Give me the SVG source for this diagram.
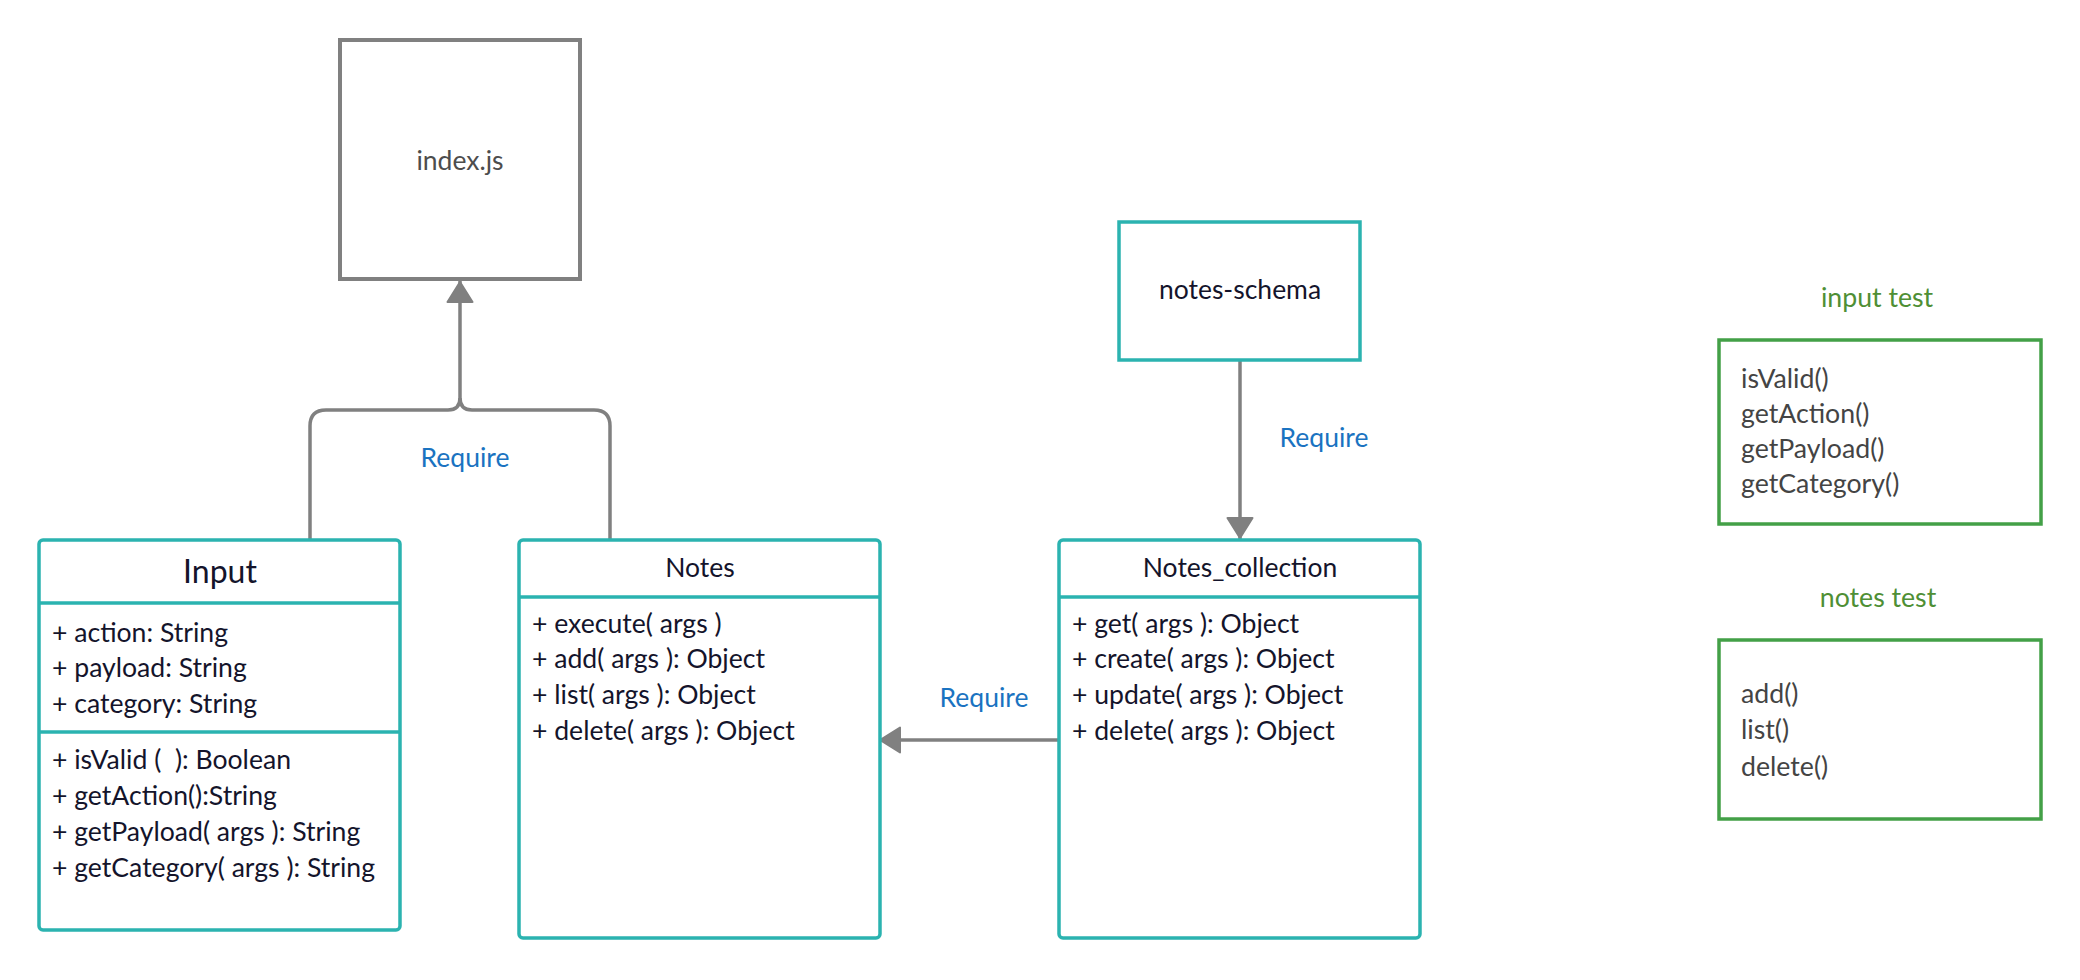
<svg xmlns="http://www.w3.org/2000/svg" width="2080" height="980" viewBox="0 0 2080 980">
<defs>
<style>
text{font-family:Lato,"Liberation Sans",sans-serif;white-space:pre;}
.box{fill:#fff;stroke:#2bb3b0;stroke-width:3.5;}
.div{stroke:#2bb3b0;stroke-width:3.5;}
.mem{font-size:26.6px;fill:#14142b;}
.ttl{font-size:26.5px;fill:#14142b;text-anchor:middle;}
.lbl{font-size:26.5px;fill:#1a73c1;text-anchor:middle;}
.con{fill:none;stroke:#808080;stroke-width:3.5;}
.tst{fill:#fff;stroke:#43a047;stroke-width:3.5;}
.tt{font-size:26.7px;fill:#4f8f35;text-anchor:middle;}
.tl{font-size:26.7px;fill:#444;}
</style>
<marker id="arr" viewBox="0 0 22 28" refX="22" refY="14" markerWidth="22" markerHeight="28" markerUnits="userSpaceOnUse" orient="auto">
<path d="M1,1.5 L21,14 L1,26.5 Z" fill="#808080" stroke="#808080" stroke-width="2" stroke-linejoin="round"/>
</marker>
</defs>
<rect width="2080" height="980" fill="#fff"/>

<g id="connectors">
<path class="con" d="M310,540 V426 Q310,410 326,410 H448 Q460,410 460,398 V281" marker-end="url(#arr)"/>
<path class="con" d="M610,540 V426 Q610,410 594,410 H472 Q460,410 460,398"/>
<path class="con" d="M1240,360 V539" marker-end="url(#arr)"/>
<path class="con" d="M1059,740 H879" marker-end="url(#arr)"/>
<text class="lbl" x="465" y="467">Require</text>
<text class="lbl" x="1324" y="447">Require</text>
<text class="lbl" x="984" y="707">Require</text>
</g>

<g id="index">
<rect x="340" y="40" width="240" height="239" fill="#fff" stroke="#808080" stroke-width="4"/>
<text x="460" y="170" font-size="26.5" fill="#4d4d4d" text-anchor="middle">index.js</text>
</g>

<g id="notes-schema">
<rect class="box" x="1119" y="222" width="241" height="138"/>
<text x="1240" y="299" font-size="26.5" fill="#14142b" text-anchor="middle">notes-schema</text>
</g>

<g id="input">
<rect class="box" x="39" y="540" width="361" height="390" rx="4"/>
<line class="div" x1="39" y1="603" x2="400" y2="603"/>
<line class="div" x1="39" y1="732" x2="400" y2="732"/>
<text x="220" y="583" font-size="32" fill="#14142b" text-anchor="middle">Input</text>
<text class="mem" x="52" y="642">+ action: String</text>
<text class="mem" x="52" y="677">+ payload: String</text>
<text class="mem" x="52" y="713">+ category: String</text>
<text class="mem" x="52" y="769">+ isValid (  ): Boolean</text>
<text class="mem" x="52" y="805">+ getAction():String</text>
<text class="mem" x="52" y="841">+ getPayload( args ): String</text>
<text class="mem" x="52" y="877" font-size="23.5">+ getCategory( args ): String</text>
</g>

<g id="notes">
<rect class="box" x="519" y="540" width="361" height="398" rx="4"/>
<line class="div" x1="519" y1="597" x2="880" y2="597"/>
<text class="ttl" x="700" y="577">Notes</text>
<text class="mem" x="532" y="633">+ execute( args )</text>
<text class="mem" x="532" y="668">+ add( args ): Object</text>
<text class="mem" x="532" y="704">+ list( args ): Object</text>
<text class="mem" x="532" y="740">+ delete( args ): Object</text>
</g>

<g id="notes-collection">
<rect class="box" x="1059" y="540" width="361" height="398" rx="4"/>
<line class="div" x1="1059" y1="597" x2="1420" y2="597"/>
<text class="ttl" x="1240" y="577">Notes_collection</text>
<text class="mem" x="1072" y="633">+ get( args ): Object</text>
<text class="mem" x="1072" y="668">+ create( args ): Object</text>
<text class="mem" x="1072" y="704">+ update( args ): Object</text>
<text class="mem" x="1072" y="740">+ delete( args ): Object</text>
</g>

<g id="input-test">
<text class="tt" x="1877" y="307">input test</text>
<rect class="tst" x="1719" y="340" width="322" height="184"/>
<text class="tl" x="1741" y="388">isValid()</text>
<text class="tl" x="1741" y="423">getAction()</text>
<text class="tl" x="1741" y="458">getPayload()</text>
<text class="tl" x="1741" y="493">getCategory()</text>
</g>

<g id="notes-test">
<text class="tt" x="1878" y="607">notes test</text>
<rect class="tst" x="1719" y="640" width="322" height="179"/>
<text class="tl" x="1741" y="703">add()</text>
<text class="tl" x="1741" y="739">list()</text>
<text class="tl" x="1741" y="776">delete()</text>
</g>
</svg>
